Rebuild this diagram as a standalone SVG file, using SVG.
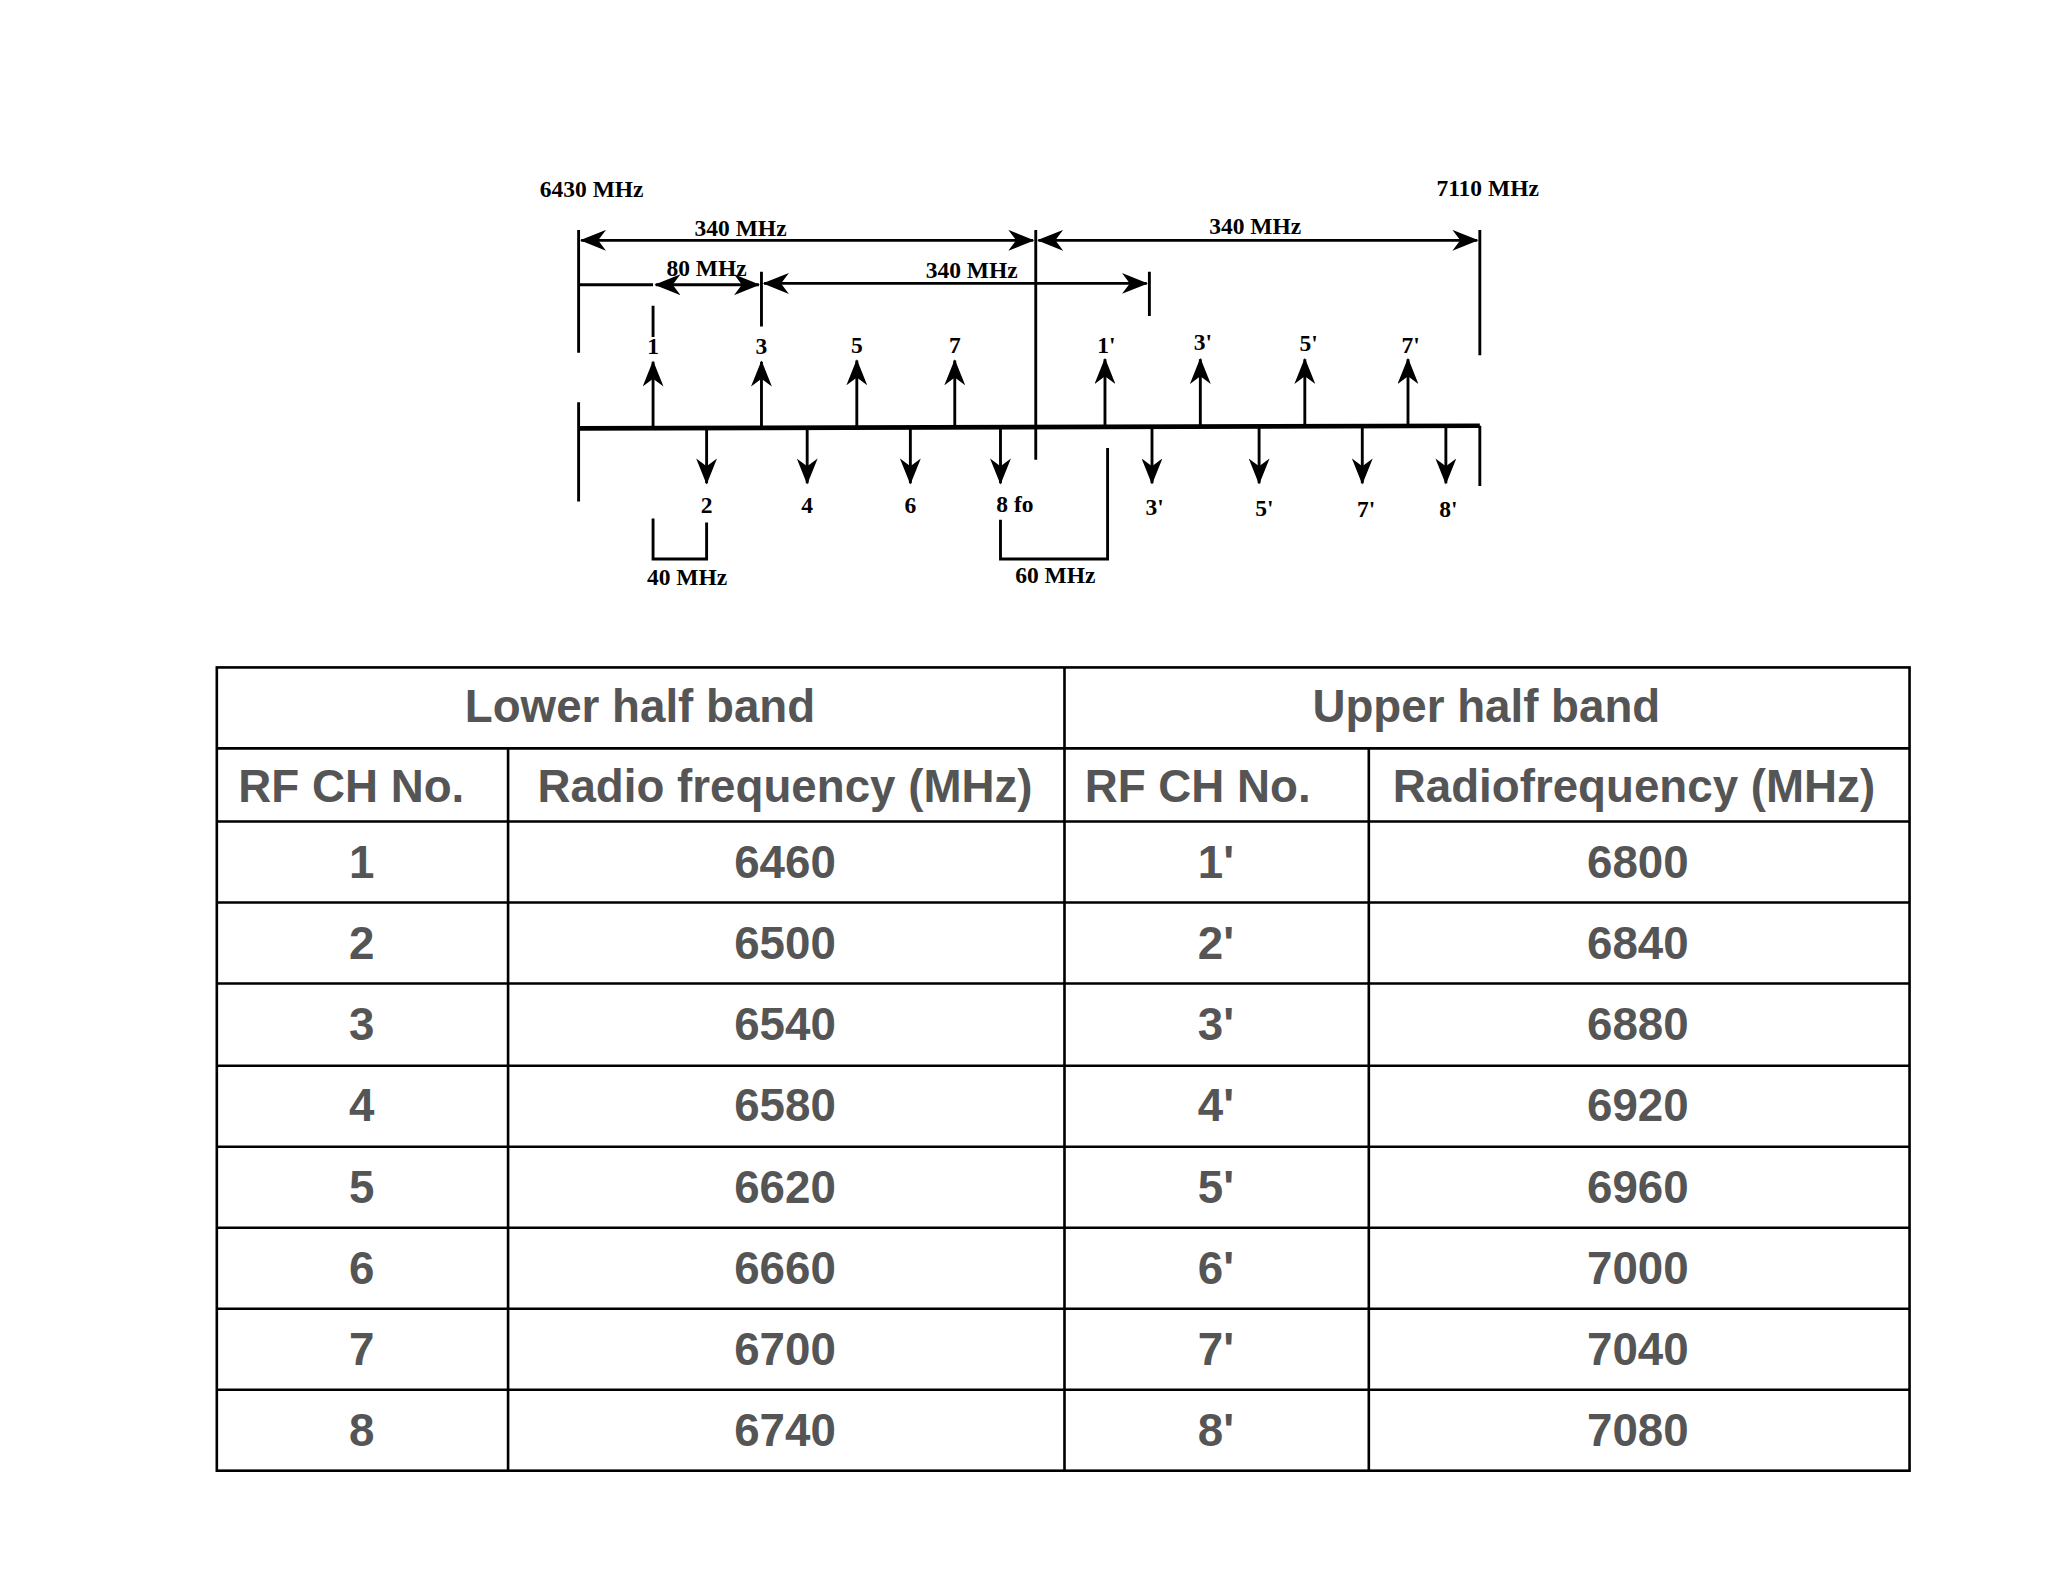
<svg xmlns="http://www.w3.org/2000/svg" width="2048" height="1582" viewBox="0 0 2048 1582">
<style>
.l{stroke:#000;stroke-width:2.2;fill:none}
.m{stroke:#000;stroke-width:3.5;fill:none}
.d{font-family:"Liberation Serif",serif;font-weight:bold;font-size:18px;fill:#000;text-anchor:middle}
.t{font-family:"Liberation Sans",Arial,sans-serif;font-weight:bold;font-size:35px;fill:#555;text-anchor:middle}
.g{stroke:#000;stroke-width:2;fill:none}
</style>
<defs>
<marker id="ah" viewBox="0 0 20 16" refX="19" refY="8" markerWidth="20" markerHeight="16" markerUnits="userSpaceOnUse" orient="auto-start-reverse">
<path d="M0,0 L20,8 L0,16 L6,8 Z" fill="#000"/>
</marker>
</defs>
<rect width="2048" height="1582" fill="#fff"/>
<g transform="scale(1.30612)">
<g id="connectors">
<line class="m" x1="443" y1="328" x2="1133" y2="326"/>
<path class="l" d="M443 176V270M443 308V384M793 176V352M1133 176V272M1133 326V372M880 208V242"/>
<line class="l" x1="445" y1="184" x2="791" y2="184" marker-start="url(#ah)" marker-end="url(#ah)"/>
<line class="l" x1="795" y1="184" x2="1131" y2="184" marker-start="url(#ah)" marker-end="url(#ah)"/>
<line class="l" x1="443" y1="218" x2="500" y2="218"/>
<line class="l" x1="502" y1="218" x2="581" y2="218" marker-start="url(#ah)" marker-end="url(#ah)"/>
<line class="l" x1="585" y1="217" x2="878" y2="217" marker-start="url(#ah)" marker-end="url(#ah)"/>
<path class="l" d="M500 234V258M583 208V250"/>
<g id="up">
<line class="l" x1="500" y1="329" x2="500" y2="277" marker-end="url(#ah)"/>
<line class="l" x1="583" y1="329" x2="583" y2="277" marker-end="url(#ah)"/>
<line class="l" x1="656" y1="328" x2="656" y2="276" marker-end="url(#ah)"/>
<line class="l" x1="731" y1="328" x2="731" y2="276" marker-end="url(#ah)"/>
<line class="l" x1="846" y1="327" x2="846" y2="275" marker-end="url(#ah)"/>
<line class="l" x1="919" y1="327" x2="919" y2="275" marker-end="url(#ah)"/>
<line class="l" x1="999" y1="327" x2="999" y2="275" marker-end="url(#ah)"/>
<line class="l" x1="1078" y1="327" x2="1078" y2="275" marker-end="url(#ah)"/>
</g>
<g id="down">
<line class="l" x1="541" y1="329" x2="541" y2="370" marker-end="url(#ah)"/>
<line class="l" x1="618" y1="329" x2="618" y2="370" marker-end="url(#ah)"/>
<line class="l" x1="697" y1="328" x2="697" y2="370" marker-end="url(#ah)"/>
<line class="l" x1="766" y1="328" x2="766" y2="370" marker-end="url(#ah)"/>
<line class="l" x1="882" y1="327" x2="882" y2="370" marker-end="url(#ah)"/>
<line class="l" x1="964" y1="327" x2="964" y2="370" marker-end="url(#ah)"/>
<line class="l" x1="1043" y1="327" x2="1043" y2="370" marker-end="url(#ah)"/>
<line class="l" x1="1107" y1="327" x2="1107" y2="370" marker-end="url(#ah)"/>
</g>
<path class="l" d="M500 397V428H541V400M766 398V428H848V343"/>
</g>
<g id="labels">
<text class="d" x="453" y="151">6430 MHz</text>
<text class="d" x="1139" y="150">7110 MHz</text>
<text class="d" x="567" y="181">340 MHz</text>
<text class="d" x="961" y="179">340 MHz</text>
<text class="d" x="541" y="211">80 MHz</text>
<text class="d" x="744" y="213">340 MHz</text>
<text class="d" x="500" y="271">1</text>
<text class="d" x="583" y="271">3</text>
<text class="d" x="656" y="270">5</text>
<text class="d" x="731" y="270">7</text>
<text class="d" x="847" y="270">1'</text>
<text class="d" x="921" y="268">3'</text>
<text class="d" x="1002" y="269">5'</text>
<text class="d" x="1080" y="270">7'</text>
<text class="d" x="541" y="393">2</text>
<text class="d" x="618" y="393">4</text>
<text class="d" x="697" y="393">6</text>
<text class="d" x="777" y="392">8 fo</text>
<text class="d" x="884" y="394">3'</text>
<text class="d" x="968" y="395">5'</text>
<text class="d" x="1046" y="396">7'</text>
<text class="d" x="1109" y="396">8'</text>
<text class="d" x="526" y="448">40 MHz</text>
<text class="d" x="808" y="446">60 MHz</text>
</g>
<g id="table">
<rect class="g" x="166" y="511" width="1296" height="615"/>
<path class="g" d="M166 573H1462M166 629H1462M166 691H1462M166 753H1462M166 816H1462M166 878H1462M166 940H1462M166 1002H1462M166 1064H1462M815 511V1126M389 573V1126M1048 573V1126"/>
<text class="t" x="490" y="553">Lower half band</text>
<text class="t" x="1138" y="553">Upper half band</text>
<text class="t" x="269" y="614">RF CH No.</text>
<text class="t" x="601" y="614">Radio frequency  (MHz)</text>
<text class="t" x="917" y="614">RF CH No.</text>
<text class="t" x="1251" y="614">Radiofrequency (MHz)</text>
<g class="t">
<text x="277" y="672">1</text><text x="601" y="672">6460</text><text x="931" y="672">1'</text><text x="1254" y="672">6800</text>
<text x="277" y="734">2</text><text x="601" y="734">6500</text><text x="931" y="734">2'</text><text x="1254" y="734">6840</text>
<text x="277" y="796">3</text><text x="601" y="796">6540</text><text x="931" y="796">3'</text><text x="1254" y="796">6880</text>
<text x="277" y="858">4</text><text x="601" y="858">6580</text><text x="931" y="858">4'</text><text x="1254" y="858">6920</text>
<text x="277" y="921">5</text><text x="601" y="921">6620</text><text x="931" y="921">5'</text><text x="1254" y="921">6960</text>
<text x="277" y="983">6</text><text x="601" y="983">6660</text><text x="931" y="983">6'</text><text x="1254" y="983">7000</text>
<text x="277" y="1045">7</text><text x="601" y="1045">6700</text><text x="931" y="1045">7'</text><text x="1254" y="1045">7040</text>
<text x="277" y="1107">8</text><text x="601" y="1107">6740</text><text x="931" y="1107">8'</text><text x="1254" y="1107">7080</text>
</g>
</g>
</g>
</svg>
